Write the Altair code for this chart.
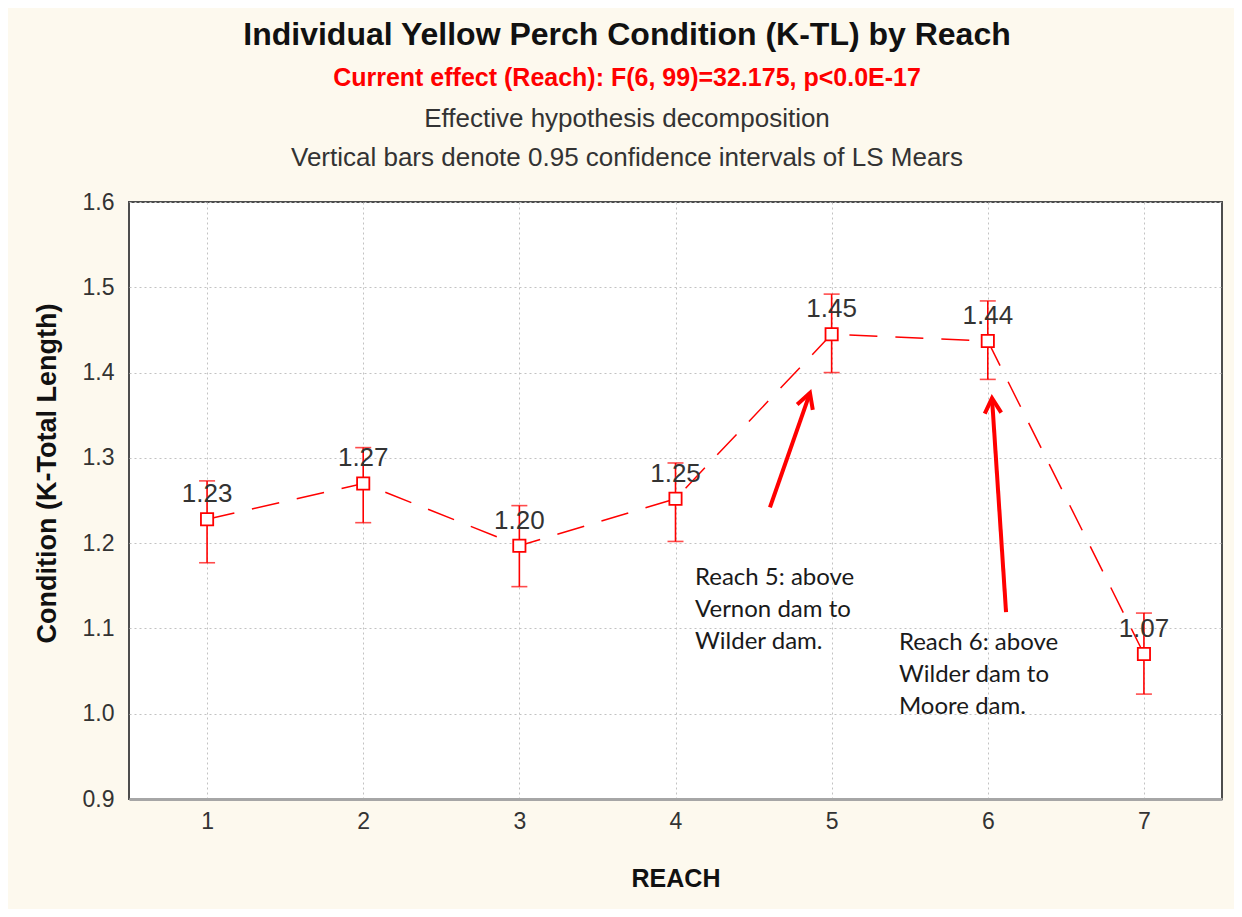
import math
import altair as alt
import pandas as pd

# ---------------- data ----------------
reach = [1, 2, 3, 4, 5, 6, 7]
mean = [1.228, 1.270, 1.197, 1.252, 1.445, 1.437, 1.070]
lower = [1.177, 1.224, 1.149, 1.202, 1.400, 1.392, 1.023]
upper = [1.273, 1.312, 1.244, 1.294, 1.492, 1.484, 1.118]
mean_labels = ["1.23", "1.27", "1.20", "1.25", "1.45", "1.44", "1.07"]

x_ticks = [1, 2, 3, 4, 5, 6, 7]
y_ticks = [0.9, 1.0, 1.1, 1.2, 1.3, 1.4, 1.5, 1.6]

title_main = "Individual Yellow Perch Condition (K-TL) by Reach"
title_effect = "Current effect (Reach): F(6, 99)=32.175, p<0.0E-17"
title_line3 = "Effective hypothesis decomposition"
title_line4 = "Vertical bars denote 0.95 confidence intervals of LS Mears"

note_text = ["Reach 5: above\nVernon dam to\nWilder dam.",
             "Reach 6: above\nWilder dam to\nMoore dam."]
note_x = [4.125, 5.431]
note_y = [1.173, 1.097]

arrow_x_tail = [4.605, 6.117]
arrow_y_tail = [1.242, 1.119]
arrow_x_head = [4.861, 6.027]
arrow_y_head = [1.376, 1.370]

# ---------------- layout ----------------
W, H = 1093, 597
X_DOM = [0.5, 7.5]
Y_DOM = [0.9, 1.6]

df = pd.DataFrame({"reach": reach, "mean": mean, "lower": lower,
                   "upper": upper, "label": mean_labels})
notes = pd.DataFrame({"x": note_x, "y": note_y, "t": note_text})

# arrow head rotation (screen space, clockwise from "up")
def _px(x):
    return (x - X_DOM[0]) / (X_DOM[1] - X_DOM[0]) * W

def _py(y):
    return (Y_DOM[1] - y) / (Y_DOM[1] - Y_DOM[0]) * H

angles = []
for xt, yt, xh, yh in zip(arrow_x_tail, arrow_y_tail, arrow_x_head, arrow_y_head):
    dx = _px(xh) - _px(xt)
    dy = _py(yh) - _py(yt)
    angles.append(math.degrees(math.atan2(dx, -dy)) % 360)

arrows = pd.DataFrame({"x": arrow_x_tail, "y": arrow_y_tail,
                       "x2": arrow_x_head, "y2": arrow_y_head,
                       "ang": angles})

RED = "#ff0000"
GREY_TXT = "#333333"

xs = alt.Scale(domain=X_DOM, nice=False, zero=False)
ys = alt.Scale(domain=Y_DOM, nice=False, zero=False)

x_axis = alt.Axis(values=x_ticks, format="d", title="REACH",
                  grid=True, gridColor="#c2c2c2", gridDash=[2, 3], gridWidth=1,
                  ticks=False, labelPadding=11, labelFontSize=23,
                  labelColor=GREY_TXT, labelFont="Liberation Sans",
                  titleFont="Liberation Sans", titleFontSize=25,
                  titleFontWeight="bold", titleColor="#111111", titlePadding=33,
                  domain=True, domainColor="#a6a6a6", domainWidth=3)
y_axis = alt.Axis(values=y_ticks, format=".1f",
                  title="Condition (K-Total Length)",
                  grid=True, gridColor="#c2c2c2", gridDash=[2, 3], gridWidth=1,
                  ticks=False, labelPadding=15, labelFontSize=23,
                  labelColor=GREY_TXT, labelFont="Liberation Sans",
                  titleFont="Liberation Sans", titleFontSize=27,
                  titleFontWeight="bold", titleColor="#111111",
                  titleAngle=270, titleAlign="center", titleBaseline="middle",
                  titleX=-82, titleY=271,
                  domain=False)

base = alt.Chart(df)

line = base.mark_line(color=RED, strokeWidth=1.5, strokeDash=[28, 18]).encode(
    x=alt.X("reach:Q", scale=xs, axis=x_axis),
    y=alt.Y("mean:Q", scale=ys, axis=y_axis),
)

bars = base.mark_rule(color=RED, strokeWidth=1.6).encode(
    x="reach:Q", y="lower:Q", y2="upper:Q")

caps_lo = base.mark_tick(color=RED, orient="horizontal", size=16,
                         thickness=1.6).encode(x="reach:Q", y="lower:Q")
caps_hi = base.mark_tick(color=RED, orient="horizontal", size=16,
                         thickness=1.6).encode(x="reach:Q", y="upper:Q")

squares = base.mark_point(shape="square", size=150, filled=True, fill="white",
                          stroke=RED, strokeWidth=1.8, opacity=1).encode(
    x="reach:Q", y="mean:Q")

val_labels = base.mark_text(fontSize=26, font="Liberation Sans", color=GREY_TXT,
                            dy=-25, baseline="middle", align="center").encode(
    x="reach:Q", y="mean:Q", text="label:N")

arrow_shaft = alt.Chart(arrows).mark_rule(color=RED, strokeWidth=4).encode(
    x="x:Q", y="y:Q", x2="x2:Q", y2="y2:Q")
arrow_head = alt.Chart(arrows).mark_point(
    shape="M-0.55,1L0,0L0.55,1", size=900, filled=False, stroke=RED,
    strokeWidth=4, opacity=1, strokeJoin="miter").encode(
    x="x2:Q", y="y2:Q", angle=alt.Angle("ang:Q", scale=None))

note_marks = alt.Chart(notes).mark_text(
    font="Lato", fontSize=24, color="#1a1a1a", align="left", baseline="top",
    lineBreak="\n", lineHeight=32).encode(x="x:Q", y="y:Q", text="t:N")

def header(txt, y, size, weight, color):
    return alt.Chart(pd.DataFrame({"t": [txt]})).mark_text(
        font="Liberation Sans", fontSize=size, fontWeight=weight, color=color,
        align="center", baseline="middle").encode(
        x=alt.value(498), y=alt.value(y), text="t:N")

h1 = header(title_main, -167, 32, "bold", "#111111")
h2 = header(title_effect, -124, 25, "bold", RED)
h3 = header(title_line3, -83, 26, "normal", GREY_TXT)
h4 = header(title_line4, -44, 26, "normal", GREY_TXT)

chart = alt.layer(
    line, bars, caps_lo, caps_hi, squares, val_labels,
    arrow_shaft, arrow_head, note_marks, h1, h2, h3, h4
).properties(
    width=W, height=H,
    autosize=alt.AutoSizeParams(type="none"),
    padding={"left": 121, "top": 194, "right": 12, "bottom": 110},
    background="#fdf9ee",
).configure_view(
    fill="white", stroke="#4d4d4d", strokeWidth=2
)

chart.save("out.html", embed_options={"renderer": "svg", "actions": False})
